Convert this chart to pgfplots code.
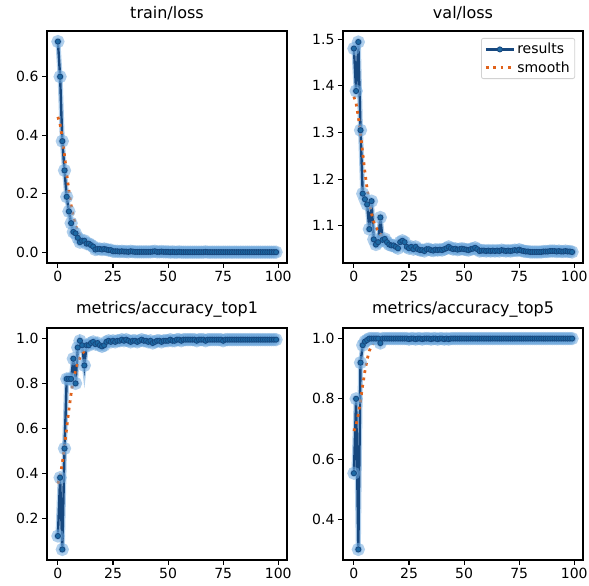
\documentclass[border=0pt]{standalone}
\usepackage{fontspec}
\setmainfont{DejaVu Sans}
\usepackage{pgfplots}
\usepackage{pgfplotstable}
\pgfplotsset{compat=1.18}
\definecolor{resc}{HTML}{17487F}
\definecolor{resm}{HTML}{1F77B4}
\definecolor{halo}{HTML}{6FA8DC}
\definecolor{smc}{HTML}{E0621B}

% epoch, results, smooth
\pgfplotstableread{
x r s
0 0.720 0.463
1 0.600 0.437
2 0.380 0.390
3 0.280 0.331
4 0.190 0.268
5 0.140 0.210
6 0.100 0.161
7 0.070 0.122
8 0.065 0.092
9 0.050 0.072
10 0.035 0.057
11 0.040 0.047
12 0.040 0.039
13 0.030 0.034
14 0.030 0.029
15 0.025 0.025
16 0.020 0.021
17 0.010 0.018
18 0.012 0.015
19 0.012 0.013
20 0.010 0.011
21 0.012 0.010
22 0.010 0.009
23 0.008 0.008
24 0.008 0.007
25 0.004 0.006
26 0.004 0.005
27 0.004 0.005
28 0.003 0.004
29 0.004 0.004
30 0.003 0.004
31 0.003 0.003
32 0.002 0.003
33 0.004 0.003
34 0.003 0.003
35 0.002 0.003
36 0.002 0.003
37 0.002 0.002
38 0.002 0.002
39 0.002 0.002
40 0.002 0.002
41 0.002 0.002
42 0.002 0.002
43 0.003 0.002
44 0.004 0.002
45 0.002 0.002
46 0.002 0.002
47 0.003 0.002
48 0.002 0.002
49 0.002 0.002
50 0.002 0.002
51 0.001 0.002
52 0.002 0.001
53 0.001 0.001
54 0.001 0.001
55 0.002 0.001
56 0.001 0.001
57 0.001 0.001
58 0.001 0.001
59 0.001 0.001
60 0.001 0.001
61 0.001 0.001
62 0.001 0.001
63 0.001 0.001
64 0.001 0.001
65 0.001 0.001
66 0.001 0.001
67 0.002 0.001
68 0.001 0.001
69 0.001 0.001
70 0.001 0.001
71 0.001 0.001
72 0.001 0.001
73 0.001 0.001
74 0.001 0.001
75 0.001 0.001
76 0.001 0.001
77 0.001 0.001
78 0.001 0.001
79 0.001 0.001
80 0.001 0.001
81 0.001 0.001
82 0.001 0.001
83 0.001 0.001
84 0.001 0.001
85 0.001 0.001
86 0.001 0.001
87 0.001 0.001
88 0.001 0.001
89 0.001 0.001
90 0.001 0.001
91 0.001 0.001
92 0.001 0.001
93 0.001 0.001
94 0.001 0.001
95 0.001 0.001
96 0.001 0.001
97 0.001 0.001
98 0.001 0.001
99 0.001 0.001
}\trainloss

\pgfplotstableread{
x r s
0 1.480 1.377
1 1.389 1.362
2 1.494 1.334
3 1.305 1.297
4 1.169 1.256
5 1.157 1.215
6 1.146 1.179
7 1.093 1.149
8 1.153 1.126
9 1.071 1.109
10 1.060 1.097
11 1.065 1.088
12 1.118 1.082
13 1.070 1.077
14 1.072 1.073
15 1.065 1.069
16 1.060 1.066
17 1.058 1.063
18 1.058 1.062
19 1.055 1.061
20 1.052 1.060
21 1.065 1.059
22 1.068 1.058
23 1.065 1.057
24 1.055 1.056
25 1.052 1.055
26 1.055 1.054
27 1.050 1.053
28 1.055 1.052
29 1.050 1.051
30 1.048 1.050
31 1.048 1.049
32 1.046 1.049
33 1.050 1.049
34 1.050 1.049
35 1.048 1.049
36 1.047 1.049
37 1.049 1.049
38 1.048 1.049
39 1.049 1.049
40 1.048 1.050
41 1.050 1.050
42 1.052 1.050
43 1.055 1.050
44 1.052 1.050
45 1.050 1.050
46 1.051 1.050
47 1.049 1.050
48 1.050 1.050
49 1.051 1.050
50 1.050 1.050
51 1.049 1.049
52 1.048 1.049
53 1.050 1.049
54 1.051 1.049
55 1.053 1.049
56 1.050 1.048
57 1.046 1.048
58 1.047 1.048
59 1.047 1.048
60 1.046 1.047
61 1.047 1.047
62 1.046 1.047
63 1.047 1.047
64 1.046 1.047
65 1.047 1.047
66 1.046 1.047
67 1.048 1.047
68 1.047 1.047
69 1.046 1.047
70 1.047 1.047
71 1.046 1.047
72 1.047 1.047
73 1.048 1.047
74 1.047 1.047
75 1.049 1.047
76 1.047 1.046
77 1.046 1.046
78 1.045 1.046
79 1.045 1.045
80 1.044 1.045
81 1.044 1.045
82 1.044 1.045
83 1.044 1.045
84 1.044 1.045
85 1.044 1.045
86 1.045 1.045
87 1.045 1.045
88 1.045 1.045
89 1.046 1.045
90 1.046 1.045
91 1.046 1.045
92 1.045 1.045
93 1.046 1.045
94 1.045 1.045
95 1.045 1.045
96 1.046 1.045
97 1.045 1.045
98 1.045 1.045
99 1.044 1.045
}\valloss

\pgfplotstableread{
x r s
0 0.120 0.354
1 0.380 0.385
2 0.060 0.444
3 0.510 0.520
4 0.820 0.603
5 0.820 0.684
6 0.820 0.755
7 0.910 0.813
8 0.800 0.858
9 0.960 0.891
10 0.990 0.915
11 0.970 0.932
12 0.880 0.944
13 0.970 0.953
14 0.970 0.960
15 0.980 0.965
16 0.985 0.968
17 0.975 0.971
18 0.980 0.973
19 0.970 0.975
20 0.965 0.977
21 0.970 0.979
22 0.985 0.981
23 0.990 0.983
24 0.985 0.985
25 0.990 0.986
26 0.985 0.987
27 0.990 0.988
28 0.990 0.989
29 0.995 0.989
30 0.990 0.990
31 0.995 0.990
32 0.990 0.990
33 0.985 0.990
34 0.990 0.990
35 0.990 0.990
36 0.985 0.990
37 0.990 0.990
38 0.995 0.990
39 0.990 0.990
40 0.990 0.990
41 0.985 0.989
42 0.990 0.989
43 0.980 0.989
44 0.985 0.989
45 0.990 0.989
46 0.990 0.990
47 0.985 0.990
48 0.990 0.990
49 0.990 0.991
50 0.990 0.991
51 0.995 0.992
52 0.990 0.992
53 0.990 0.993
54 0.995 0.993
55 0.995 0.993
56 0.990 0.994
57 0.995 0.994
58 0.995 0.994
59 0.995 0.994
60 0.995 0.995
61 0.995 0.995
62 0.995 0.995
63 0.990 0.995
64 0.995 0.995
65 0.995 0.995
66 0.995 0.995
67 0.990 0.995
68 0.995 0.995
69 0.995 0.995
70 0.995 0.995
71 0.995 0.995
72 0.995 0.995
73 0.995 0.995
74 0.995 0.995
75 0.990 0.995
76 0.995 0.995
77 0.995 0.995
78 0.995 0.995
79 0.995 0.995
80 0.995 0.995
81 0.995 0.995
82 0.995 0.995
83 0.995 0.995
84 0.995 0.995
85 0.995 0.995
86 0.995 0.995
87 0.995 0.995
88 0.995 0.995
89 0.995 0.995
90 0.995 0.995
91 0.995 0.995
92 0.995 0.995
93 0.995 0.995
94 0.995 0.995
95 0.995 0.995
96 0.995 0.995
97 0.995 0.995
98 0.995 0.995
99 0.995 0.995
}\topone

\pgfplotstableread{
x r s
0 0.553 0.693
1 0.800 0.713
2 0.300 0.749
3 0.920 0.795
4 0.978 0.845
5 0.990 0.892
6 0.995 0.930
7 1.000 0.959
8 1.000 0.977
9 1.000 0.988
10 1.000 0.993
11 1.000 0.995
12 0.985 0.996
13 1.000 0.997
14 1.000 0.998
15 1.000 0.999
16 1.000 1.000
17 1.000 1.000
18 1.000 1.000
19 1.000 1.000
20 1.000 1.000
21 1.000 1.000
22 1.000 1.000
23 1.000 1.000
24 1.000 1.000
25 0.998 1.000
26 1.000 1.000
27 1.000 1.000
28 0.998 1.000
29 1.000 1.000
30 1.000 1.000
31 0.998 1.000
32 1.000 1.000
33 1.000 1.000
34 1.000 1.000
35 0.998 1.000
36 1.000 1.000
37 1.000 1.000
38 0.998 1.000
39 1.000 1.000
40 1.000 1.000
41 0.998 1.000
42 1.000 1.000
43 0.998 1.000
44 1.000 1.000
45 1.000 1.000
46 1.000 1.000
47 1.000 1.000
48 1.000 1.000
49 1.000 1.000
50 1.000 1.000
51 1.000 1.000
52 1.000 1.000
53 1.000 1.000
54 1.000 1.000
55 1.000 1.000
56 1.000 1.000
57 1.000 1.000
58 1.000 1.000
59 1.000 1.000
60 1.000 1.000
61 1.000 1.000
62 1.000 1.000
63 1.000 1.000
64 1.000 1.000
65 1.000 1.000
66 1.000 1.000
67 1.000 1.000
68 1.000 1.000
69 1.000 1.000
70 1.000 1.000
71 1.000 1.000
72 1.000 1.000
73 1.000 1.000
74 1.000 1.000
75 1.000 1.000
76 1.000 1.000
77 1.000 1.000
78 1.000 1.000
79 1.000 1.000
80 1.000 1.000
81 1.000 1.000
82 1.000 1.000
83 1.000 1.000
84 1.000 1.000
85 1.000 1.000
86 1.000 1.000
87 1.000 1.000
88 1.000 1.000
89 1.000 1.000
90 1.000 1.000
91 1.000 1.000
92 1.000 1.000
93 1.000 1.000
94 1.000 1.000
95 1.000 1.000
96 1.000 1.000
97 1.000 1.000
98 1.000 1.000
99 1.000 1.000
}\topfive

\pgfplotsset{
  panel/.style={
    scale only axis, width=240pt, height=232pt,
    xmin=-4.95, xmax=103.95,
    xtick={0,25,50,75,100},
    tick pos=left, tick align=outside,
    major tick length=5pt,
    axis line style={line width=1.1pt},
    every tick/.style={line width=1.1pt, black},
    tick label style={font=\fontsize{14}{14}\selectfont},
    /pgf/number format/assume math mode=true,
    yticklabel style={/pgf/number format/.cd, fixed, fixed zerofill, precision=1},
    title style={font=\fontsize{16}{16}\selectfont, yshift=1pt},
    legend image code/.code={\draw[mark repeat=2,mark phase=2] plot coordinates {(0pt,0pt)(14pt,0pt)(28pt,0pt)};},
  },
  glow/.style={halo, opacity=0.55, line width=5pt, mark=*, mark size=4pt, mark options={fill=halo, draw=none}, forget plot},
  res/.style={resc, line width=2.4pt, mark=*, mark size=2.6pt, mark options={fill=resm!70!resc, draw=resc, line width=0.8pt}},
  smo/.style={smc, line width=2.8pt, dash pattern=on 2.8pt off 4.6pt, no marks},
}

\begin{document}
\begin{tikzpicture}
\path[use as bounding box] (0,0) rectangle (589pt,586pt);

\begin{axis}[panel, at={(47pt,323pt)}, anchor=south west, title={train/loss},
  ymin=-0.036, ymax=0.756, ytick={0,0.2,0.4,0.6}]
\addplot[glow] table[x=x,y=r] {\trainloss};
\addplot[res] table[x=x,y=r] {\trainloss};
\addplot[smo] table[x=x,y=s] {\trainloss};
\end{axis}

\begin{axis}[panel, at={(343pt,323pt)}, anchor=south west, title={val/loss},
  ymin=1.0204, ymax=1.5176, ytick={1.1,1.2,1.3,1.4,1.5},
  legend style={at={(0.967,0.97)}, anchor=north east, draw=gray!35, rounded corners=2pt,
    fill=white, font=\fontsize{14}{14}\selectfont, inner sep=3pt, row sep=2pt,
    line width=0.8pt},
  legend cell align=left]
\addplot[glow] table[x=x,y=r] {\valloss};
\addplot[res] table[x=x,y=r] {\valloss};
\addlegendentry{results}
\addplot[smo] table[x=x,y=s] {\valloss};
\addlegendentry{smooth}
\end{axis}

\begin{axis}[panel, at={(47pt,26pt)}, anchor=south west, title={metrics/accuracy\_top1},
  ymin=0.0131, ymax=1.0469, ytick={0.2,0.4,0.6,0.8,1.0}]
\addplot[glow] table[x=x,y=r] {\topone};
\addplot[res] table[x=x,y=r] {\topone};
\addplot[smo] table[x=x,y=s] {\topone};
\end{axis}

\begin{axis}[panel, at={(343pt,26pt)}, anchor=south west, title={metrics/accuracy\_top5},
  ymin=0.265, ymax=1.035, ytick={0.4,0.6,0.8,1.0}]
\addplot[glow] table[x=x,y=r] {\topfive};
\addplot[res] table[x=x,y=r] {\topfive};
\addplot[smo] table[x=x,y=s] {\topfive};
\end{axis}
\end{tikzpicture}
\end{document}
